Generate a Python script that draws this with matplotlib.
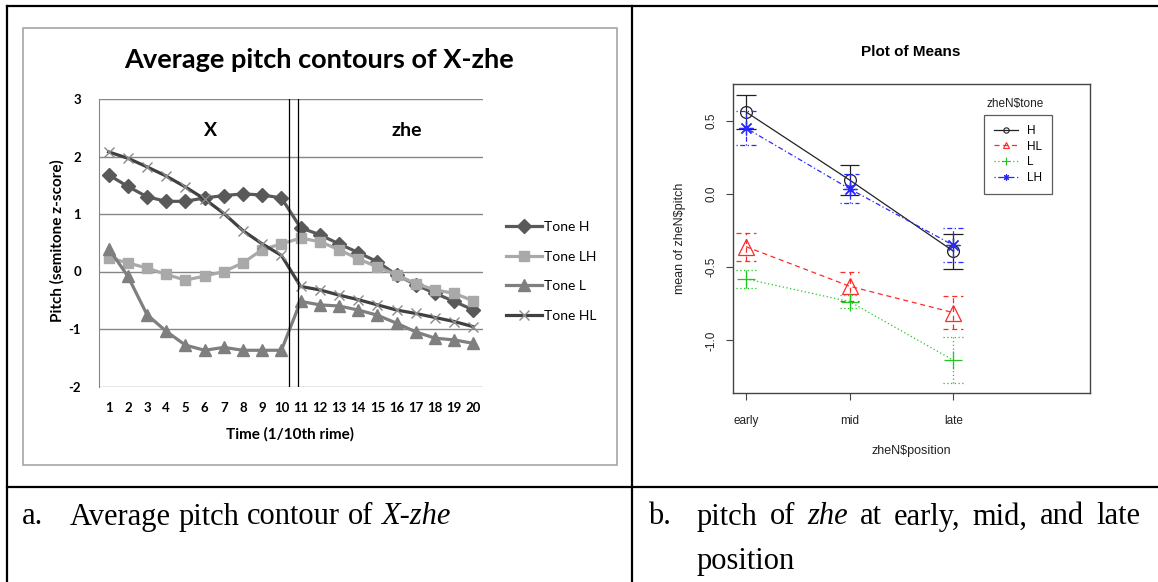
import matplotlib
matplotlib.use('Agg')
import matplotlib.pyplot as plt
from matplotlib.lines import Line2D
from matplotlib.patches import Rectangle

plt.rcParams['axes.unicode_minus'] = False

W, H = 1158, 582

# ---------------- data: left chart (Excel) ----------------
time_points = list(range(1, 21))
tone_h = [1.68, 1.48, 1.30, 1.22, 1.22, 1.28, 1.32, 1.35, 1.33, 1.28,
          0.76, 0.64, 0.48, 0.33, 0.17, -0.06, -0.23, -0.38, -0.52, -0.67]
tone_lh = [0.24, 0.15, 0.06, -0.05, -0.15, -0.08, 0.00, 0.15, 0.38, 0.48,
           0.58, 0.52, 0.38, 0.22, 0.08, -0.06, -0.21, -0.32, -0.38, -0.51]
tone_l = [0.40, -0.08, -0.75, -1.04, -1.28, -1.37, -1.32, -1.37, -1.37, -1.37,
          -0.52, -0.58, -0.60, -0.67, -0.76, -0.90, -1.05, -1.16, -1.19, -1.25]
tone_hl = [2.08, 1.97, 1.82, 1.66, 1.47, 1.26, 1.01, 0.71, 0.48, 0.28,
           -0.26, -0.32, -0.41, -0.49, -0.58, -0.67, -0.73, -0.80, -0.87, -0.96]
left_series_names = ['Tone H', 'Tone LH', 'Tone L', 'Tone HL']
boundaries = [10.4, 10.87]
left_yticks = [-2, -1, 0, 1, 2, 3]

# ---------------- data: right chart (R plotMeans) ----------------
positions = ['early', 'mid', 'late']
tone_names = ['H', 'HL', 'L', 'LH']
mean_h = [0.56, 0.095, -0.39]
err_h = [0.115, 0.10, 0.12]
mean_hl = [-0.36, -0.63, -0.81]
err_hl = [0.095, 0.10, 0.115]
mean_l = [-0.58, -0.735, -1.135]
err_l = [0.06, 0.045, 0.155]
mean_lh = [0.45, 0.035, -0.35]
err_lh = [0.115, 0.10, 0.115]
right_yticks = [-1.0, -0.5, 0.0, 0.5]

fig = plt.figure(figsize=(W / 100, H / 100), dpi=100)


def fx(x):
    return x / W


def fy(y):
    return 1 - y / H


def rect(l, t, r, b):
    return [l / W, 1 - b / H, (r - l) / W, (b - t) / H]


# ---------------- table lines ----------------
for xs, ys in [((7, 1158), (6, 6)), ((7.5, 7.5), (6, 582)),
               ((632, 632), (6, 582)), ((7, 1158), (487, 487))]:
    fig.add_artist(Line2D([fx(x) for x in xs], [fy(y) for y in ys],
                          color='black', lw=1.6))

# ---------------- left chart ----------------
fig.add_artist(Rectangle((fx(23), fy(465)), (617 - 23) / W, (465 - 28) / H,
                         transform=fig.transFigure, fill=False,
                         edgecolor='#a6a6a6', lw=1.2))
SANS = 'Lato'
fig.text(fx(319), fy(60), 'Average pitch contours of X-zhe', ha='center',
         va='center', fontsize=19.5, fontweight='bold', family=SANS)

ax1 = fig.add_axes(rect(99, 99, 483, 386.5))
ax1.set_xlim(0.5, 20.5)
ax1.set_ylim(-2, 3)
ax1.set_yticks(left_yticks)
ax1.set_xticks(time_points)
ax1.grid(axis='y', color='#868686', lw=1)
for s in ['top', 'right', 'bottom']:
    ax1.spines[s].set_visible(False)
ax1.spines['left'].set_color('#868686')
ax1.tick_params(axis='both', length=0, labelsize=9.5)
ax1.tick_params(axis='y', pad=13)
ax1.tick_params(axis='x', pad=11.5)
for lab in ax1.get_xticklabels() + ax1.get_yticklabels():
    lab.set_fontweight('bold')
    lab.set_family(SANS)

lh = ax1.plot(time_points, tone_h, color='#595959', lw=2.3, marker='D', ms=7)[0]
llh = ax1.plot(time_points, tone_lh, color='#a9a9a9', lw=2.3, marker='s', ms=7)[0]
ll = ax1.plot(time_points, tone_l, color='#7f7f7f', lw=2.3, marker='^', ms=8.5)[0]
lhl = ax1.plot(time_points, tone_hl, color='#404040', lw=2.3, marker='x', ms=7,
               mec='#8a8a8a', mew=1.0)[0]
for b in boundaries:
    ax1.axvline(b, color='black', lw=0.9)

fig.text(fx(211), fy(131), 'X', ha='center', va='center', fontsize=14,
         fontweight='bold', family=SANS)
fig.text(fx(407), fy(130), 'zhe', ha='center', va='center', fontsize=14,
         fontweight='bold', family=SANS)
fig.text(fx(57), fy(241), 'Pitch (semitone z-score)', rotation=90, ha='center',
         va='center', fontsize=11, fontweight='bold', family=SANS)
fig.text(fx(290), fy(434), 'Time (1/10th rime)', ha='center', va='center',
         fontsize=11, fontweight='bold', family=SANS)

fig.legend([lh, llh, ll, lhl], left_series_names, loc='upper left',
           bbox_to_anchor=(fx(506), fy(221)), frameon=False, numpoints=1,
           prop={'family': SANS, 'size': 10}, handlelength=2.6,
           handletextpad=0.15, labelspacing=1.27, borderpad=0, borderaxespad=0)

# ---------------- right chart ----------------
RS = 'Liberation Sans'
ax2 = fig.add_axes(rect(733, 84, 1090, 393))
ax2.set_xlim(0.874, 4.32)
ax2.set_ylim(-1.359, 0.751)
xs = [1, 2, 3]
ax2.set_xticks(xs)
ax2.set_xticklabels(positions)
ax2.set_yticks(right_yticks)
ax2.set_yticklabels([f'{v:.1f}' for v in right_yticks], rotation=90, va='center')
for s in ax2.spines.values():
    s.set_color('#444444')
    s.set_linewidth(1.0)
ax2.tick_params(axis='both', length=5, color='#444444', labelsize=8.5,
                labelcolor='#222222')
ax2.tick_params(axis='x', pad=11)
ax2.tick_params(axis='y', pad=6)
for lab in ax2.get_xticklabels() + ax2.get_yticklabels():
    lab.set_family(RS)

CAP = 0.095
specs = [
    (mean_h, err_h, '#222222', '-', 'o', 8.5, 'none'),
    (mean_hl, err_hl, '#ff2a2a', (0, (4, 3)), '^', 11, 'none'),
    (mean_l, err_l, '#1ec81e', (0, (1, 2)), '+', 13, None),
    (mean_lh, err_lh, '#2a2aff', (0, (1, 2, 4, 2)), (8, 2, 0), 10, None),
]
handles = []
for means, errs, col, ls, mk, ms, mfc in specs:
    lo = [m - e for m, e in zip(means, errs)]
    hi = [m + e for m, e in zip(means, errs)]
    ax2.vlines(xs, lo, hi, colors=col, linestyles=ls, lw=0.9)
    ax2.hlines(lo, [x - CAP for x in xs], [x + CAP for x in xs], colors=col,
               linestyles=ls, lw=0.9)
    ax2.hlines(hi, [x - CAP for x in xs], [x + CAP for x in xs], colors=col,
               linestyles=ls, lw=0.9)
    kw = dict(color=col, ls=ls, lw=0.9, marker=mk, ms=ms, mew=0.9)
    if mfc is not None:
        kw['mfc'] = mfc
    ax2.plot(xs, means, **kw)
    hk = dict(color=col, ls=ls, lw=0.9, marker=mk, ms=ms * 0.45, mew=0.8)
    if mfc is not None:
        hk['mfc'] = mfc
    handles.append(Line2D([], [], **hk))

leg2 = fig.legend(handles, tone_names, loc='upper left',
                  bbox_to_anchor=(fx(984), fy(115)), frameon=True, fancybox=False,
                  edgecolor='#333333', numpoints=1, prop={'family': RS, 'size': 8.5},
                  handlelength=2.0, handletextpad=0.8, labelspacing=0.3,
                  borderpad=0.85, borderaxespad=0)
leg2.get_frame().set_linewidth(0.9)

fig.text(fx(1015), fy(104), 'zheN$tone', ha='center', va='center', fontsize=8.5,
         family=RS, color='#222222')
fig.text(fx(911), fy(52), 'Plot of Means', ha='center', va='center', fontsize=11,
         fontweight='bold', family=RS)
fig.text(fx(911), fy(451), 'zheN$position', ha='center', va='center', fontsize=9,
         family=RS, color='#222222')
fig.text(fx(680), fy(238), 'mean of zheN$pitch', rotation=90, ha='center',
         va='center', fontsize=9, family=RS, color='#222222')

# ---------------- captions ----------------
SERIF = 'Liberation Serif'
CS = 22
renderer = fig.canvas.get_renderer()


def place_words(words, x_left, y, x_right=None):
    arts = []
    for w, it in words:
        t = fig.text(0, fy(y), w, fontsize=CS, family=SERIF, va='center',
                     style='italic' if it else 'normal', ha='left')
        arts.append(t)
    widths = [a.get_window_extent(renderer).width for a in arts]
    t1 = fig.text(0, 0, 'a a', fontsize=CS, family=SERIF)
    t2 = fig.text(0, 0, 'aa', fontsize=CS, family=SERIF)
    space = t1.get_window_extent(renderer).width - t2.get_window_extent(renderer).width
    t1.remove()
    t2.remove()
    if x_right is not None and len(arts) > 1:
        gap = (x_right - x_left - sum(widths)) / (len(arts) - 1)
    else:
        gap = space
    x = x_left
    for a, w_ in zip(arts, widths):
        a.set_x(fx(x))
        x += w_ + gap


fig.text(fx(22), fy(517), 'a.', fontsize=CS, family=SERIF, va='center')
place_words([('Average', False), ('pitch', False), ('contour', False),
             ('of', False), ('X-zhe', True)], 70, 517)
fig.text(fx(648), fy(517), 'b.', fontsize=CS, family=SERIF, va='center')
place_words([('pitch', False), ('of', False), ('zhe', True), ('at', False),
             ('early,', False), ('mid,', False), ('and', False), ('late', False)],
            697, 517, 1140)
fig.text(fx(697), fy(561), 'position', fontsize=CS, family=SERIF, va='center')

fig.savefig('out.png', dpi=100)
